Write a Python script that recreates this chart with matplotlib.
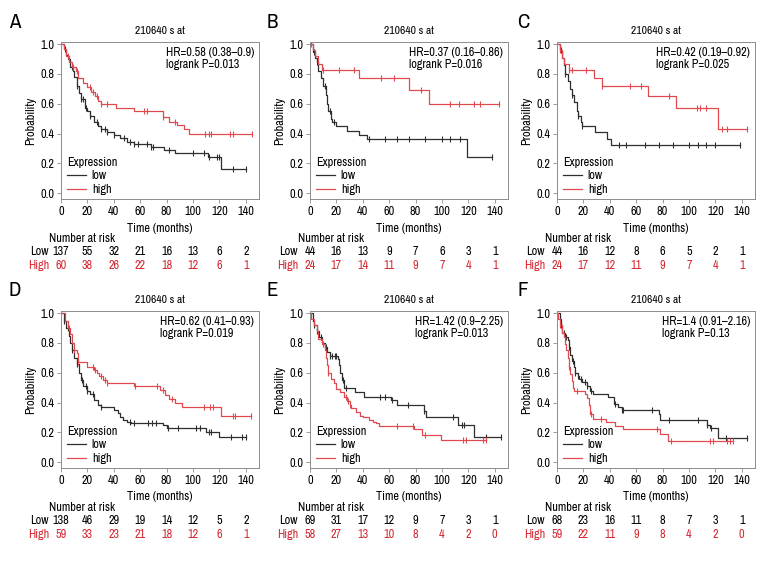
import numpy as np
import matplotlib
matplotlib.use("Agg")
import matplotlib.pyplot as plt
import matplotlib.transforms as mtransforms
from matplotlib import font_manager

# pick a narrow face if one is installed, else fall back to Liberation Sans
_names = sorted({f.name for f in font_manager.fontManager.ttflist})
_narrow = [n for n in _names if ("Condensed" in n or "Narrow" in n) and "Mono" not in n]
_stretchy = sorted({f.name for f in font_manager.fontManager.ttflist
                    if str(f.stretch) in ("condensed", "semi-condensed", "extra-condensed")
                    and "Mono" not in f.name})
FONT = (_narrow + _stretchy + ["Liberation Sans"])[0]
plt.rcParams["font.family"] = [FONT, "DejaVu Sans"]
if FONT in _stretchy and FONT not in _narrow:
    plt.rcParams["font.stretch"] = "condensed"

LOW_COLOR = "#2e2e2e"
HIGH_COLOR = "#e04a4f"
HIGH_TEXT = "#d42a33"
FRAME_COLOR = "#8c8c8c"

PROBE = "210640 s at"
RISK_TIMES = [0, 20, 40, 60, 80, 100, 120, 140]

# ---- Panel A
A_LOW_T = [0, 2, 4, 5, 7, 9, 10, 12, 14, 15, 18, 20, 22, 25, 28, 30, 35, 40, 45, 50, 55, 68, 78, 86, 111, 121]
A_LOW_S = [1.0, 0.97, 0.93, 0.90, 0.85, 0.82, 0.78, 0.72, 0.67, 0.63, 0.57, 0.55, 0.52, 0.48, 0.45, 0.43, 0.41,
           0.39, 0.37, 0.34, 0.33, 0.31, 0.29, 0.27, 0.24, 0.16]
A_LOW_CENS = [3, 6, 8, 12, 15, 17, 19, 22, 27, 30, 33, 35, 40, 48, 52, 55, 58, 65, 68, 70, 82, 100, 108, 112,
              118, 120, 130, 140]
A_HIGH_T = [0, 2, 4, 6, 8, 11, 13, 17, 20, 23, 26, 28, 30, 42, 55, 77, 82, 88, 93, 97]
A_HIGH_S = [1.0, 0.97, 0.92, 0.88, 0.85, 0.82, 0.77, 0.74, 0.71, 0.68, 0.65, 0.62, 0.60, 0.57, 0.55, 0.51,
            0.48, 0.46, 0.43, 0.40]
A_HIGH_CENS = [5, 9, 12, 22, 24, 27, 30, 35, 63, 65, 77, 86, 109, 112, 114, 128, 130, 145]
A_RISK_LOW = [137, 55, 32, 21, 16, 13, 6, 2]
A_RISK_HIGH = [60, 38, 26, 22, 18, 12, 6, 1]
A_STATS = "HR=0.58 (0.38\u20130.9)\nlogrank P=0.013"

# ---- Panel B
B_LOW_T = [0, 2, 4, 5, 6, 8, 10, 12, 13, 14, 16, 17, 20, 28, 37, 43, 119]
B_LOW_S = [1.0, 0.95, 0.91, 0.88, 0.82, 0.77, 0.72, 0.66, 0.60, 0.55, 0.50, 0.48, 0.45, 0.42, 0.39, 0.36, 0.24]
B_LOW_CENS = [3, 5, 11, 15, 18, 45, 57, 66, 75, 87, 100, 106, 114, 138]
B_HIGH_T = [0, 2, 4, 6, 9, 37, 75, 90]
B_HIGH_S = [1.0, 0.96, 0.92, 0.87, 0.83, 0.77, 0.69, 0.60]
B_HIGH_CENS = [1, 10, 22, 33, 54, 64, 84, 106, 113, 124, 129, 143]
B_RISK_LOW = [44, 16, 13, 9, 7, 6, 3, 1]
B_RISK_HIGH = [24, 17, 14, 11, 9, 7, 4, 1]
B_STATS = "HR=0.37 (0.16\u20130.86)\nlogrank P=0.016"

# ---- Panel C
C_LOW_T = [0, 2, 4, 5, 6, 8, 10, 11, 13, 15, 16, 18, 19, 29, 38, 41]
C_LOW_S = [1.0, 0.96, 0.91, 0.86, 0.80, 0.75, 0.70, 0.66, 0.61, 0.55, 0.52, 0.48, 0.45, 0.41, 0.36, 0.32]
C_LOW_CENS = [3, 6, 11, 16, 19, 47, 52, 67, 77, 88, 100, 107, 113, 120, 139]
C_HIGH_T = [0, 2, 4, 5, 9, 28, 34, 69, 90, 122]
C_HIGH_S = [1.0, 0.96, 0.91, 0.87, 0.83, 0.77, 0.72, 0.65, 0.57, 0.43]
C_HIGH_CENS = [2, 9, 11, 22, 34, 55, 64, 85, 106, 108, 113, 125, 129, 144]
C_RISK_LOW = [44, 16, 12, 8, 6, 5, 2, 1]
C_RISK_HIGH = [24, 17, 12, 11, 9, 7, 4, 1]
C_STATS = "HR=0.42 (0.19\u20130.92)\nlogrank P=0.025"

# ---- Panel D
D_LOW_T = [0, 2, 4, 6, 7, 8, 10, 12, 14, 15, 17, 20, 22, 25, 28, 30, 40, 43, 45, 47, 50, 53, 77, 80, 110, 120]
D_LOW_S = [1.0, 0.95, 0.90, 0.85, 0.80, 0.75, 0.70, 0.66, 0.60, 0.55, 0.51, 0.48, 0.46, 0.42, 0.38, 0.37, 0.35,
           0.33, 0.30, 0.28, 0.27, 0.26, 0.25, 0.23, 0.20, 0.17]
D_LOW_CENS = [2, 5, 8, 12, 16, 19, 20, 24, 30, 52, 55, 66, 69, 72, 81, 89, 102, 105, 112, 114, 129, 137, 140]
D_HIGH_T = [0, 3, 5, 7, 8, 10, 12, 13, 20, 25, 27, 29, 32, 35, 55, 75, 79, 82, 86, 92, 121]
D_HIGH_S = [1.0, 0.95, 0.90, 0.86, 0.80, 0.75, 0.73, 0.67, 0.64, 0.62, 0.60, 0.575, 0.55, 0.53, 0.51, 0.485,
            0.45, 0.425, 0.40, 0.37, 0.31]
D_HIGH_CENS = [6, 10, 13, 24, 26, 30, 33, 35, 56, 73, 77, 84, 108, 113, 115, 130, 132, 144]
D_RISK_LOW = [138, 46, 29, 19, 14, 12, 5, 2]
D_RISK_HIGH = [59, 33, 23, 21, 18, 12, 6, 1]
D_STATS = "HR=0.62 (0.41\u20130.93)\nlogrank P=0.019"

# ---- Panel E
E_LOW_T = [0, 2, 3, 5, 7, 9, 11, 13, 15, 21, 22, 23, 24, 26, 34, 41, 61, 66, 86, 88, 112, 124]
E_LOW_S = [1.0, 0.95, 0.92, 0.88, 0.84, 0.80, 0.77, 0.74, 0.71, 0.69, 0.65, 0.60, 0.55, 0.50, 0.47, 0.44,
           0.42, 0.38, 0.345, 0.30, 0.25, 0.17]
E_LOW_CENS = [3, 5, 8, 11, 12, 15, 17, 19, 20, 25, 27, 53, 57, 62, 74, 86, 108, 115, 117, 133, 145]
E_HIGH_T = [0, 1, 3, 5, 6, 9, 11, 12, 13, 14, 16, 18, 20, 23, 26, 28, 30, 31, 35, 38, 40, 45, 48, 50, 52,
            79, 85, 99]
E_HIGH_S = [1.0, 0.96, 0.92, 0.88, 0.83, 0.79, 0.75, 0.70, 0.65, 0.60, 0.56, 0.53, 0.49, 0.47, 0.44, 0.41,
            0.385, 0.36, 0.335, 0.31, 0.30, 0.285, 0.27, 0.26, 0.245, 0.225, 0.18, 0.145]
E_HIGH_CENS = [10, 14, 27, 29, 30, 66, 78, 87, 116, 118, 131, 133]
E_RISK_LOW = [69, 31, 17, 12, 9, 7, 3, 1]
E_RISK_HIGH = [58, 27, 13, 10, 8, 4, 2, 0]
E_STATS = "HR=1.42 (0.9\u20132.25)\nlogrank P=0.013"

# ---- Panel F
F_LOW_T = [0, 2, 3, 4, 6, 8, 9, 10, 11, 13, 14, 16, 17, 19, 23, 25, 27, 39, 43, 46, 49, 77, 78, 114, 116, 122]
F_LOW_S = [1.0, 0.96, 0.92, 0.87, 0.84, 0.82, 0.77, 0.72, 0.68, 0.64, 0.60, 0.58, 0.56, 0.54, 0.51, 0.475,
           0.46, 0.44, 0.39, 0.37, 0.35, 0.325, 0.28, 0.25, 0.23, 0.16]
F_LOW_CENS = [3, 5, 7, 9, 12, 14, 16, 18, 21, 23, 26, 44, 49, 50, 72, 85, 107, 114, 117, 128, 144]
F_HIGH_T = [0, 1, 2, 4, 5, 6, 7, 8, 9, 10, 11, 12, 13, 21, 23, 24, 25, 27, 37, 44, 50, 78, 84]
F_HIGH_S = [1.0, 0.96, 0.92, 0.87, 0.84, 0.79, 0.75, 0.70, 0.64, 0.59, 0.545, 0.50, 0.475, 0.46, 0.43, 0.38,
            0.325, 0.29, 0.27, 0.245, 0.22, 0.19, 0.14]
F_HIGH_CENS = [2, 9, 15, 26, 33, 76, 86, 116, 118, 129, 131, 133]
F_RISK_LOW = [68, 23, 16, 11, 8, 7, 3, 1]
F_RISK_HIGH = [59, 22, 11, 9, 8, 4, 2, 0]
F_STATS = "HR=1.4 (0.91\u20132.16)\nlogrank P=0.13"

PANELS = [
    ("A", A_LOW_T, A_LOW_S, A_LOW_CENS, A_HIGH_T, A_HIGH_S, A_HIGH_CENS, A_RISK_LOW, A_RISK_HIGH, A_STATS),
    ("B", B_LOW_T, B_LOW_S, B_LOW_CENS, B_HIGH_T, B_HIGH_S, B_HIGH_CENS, B_RISK_LOW, B_RISK_HIGH, B_STATS),
    ("C", C_LOW_T, C_LOW_S, C_LOW_CENS, C_HIGH_T, C_HIGH_S, C_HIGH_CENS, C_RISK_LOW, C_RISK_HIGH, C_STATS),
    ("D", D_LOW_T, D_LOW_S, D_LOW_CENS, D_HIGH_T, D_HIGH_S, D_HIGH_CENS, D_RISK_LOW, D_RISK_HIGH, D_STATS),
    ("E", E_LOW_T, E_LOW_S, E_LOW_CENS, E_HIGH_T, E_HIGH_S, E_HIGH_CENS, E_RISK_LOW, E_RISK_HIGH, E_STATS),
    ("F", F_LOW_T, F_LOW_S, F_LOW_CENS, F_HIGH_T, F_HIGH_S, F_HIGH_CENS, F_RISK_LOW, F_RISK_HIGH, F_STATS),
]

W, H = 780, 564
COL_LEFT = [61, 310, 557]
ROW_TOP = [42, 311]
AX_W, AX_H = 198, 157
FS = 8.8


def draw_curve(ax, times, surv, cens, color, label):
    times = np.asarray(times, float)
    surv = np.asarray(surv, float)
    end = max(times[-1], max(cens))
    x = np.append(times, end)
    y = np.append(surv, surv[-1])
    ax.plot(x, y, drawstyle="steps-post", color=color, lw=0.9, label=label)
    idx = np.searchsorted(times, cens, side="right") - 1
    ax.plot(cens, surv[idx], ls="none", marker="|", ms=4, mew=0.8, color=color)


fig = plt.figure(figsize=(W / 100, H / 100), dpi=100)

for i, (letter, lt, ls, lc, ht, hs, hc, rl, rh, stats) in enumerate(PANELS):
    row, col = divmod(i, 3)
    left = COL_LEFT[col] / W
    bottom = 1 - (ROW_TOP[row] + AX_H) / H
    ax = fig.add_axes([left, bottom, AX_W / W, AX_H / H])

    draw_curve(ax, lt, ls, lc, LOW_COLOR, "low")
    draw_curve(ax, ht, hs, hc, HIGH_COLOR, "high")

    ax.set_xlim(0, 150)
    ax.set_ylim(-0.04, 1.015)
    ax.set_xticks(RISK_TIMES)
    ax.set_yticks([0.0, 0.2, 0.4, 0.6, 0.8, 1.0])
    ax.set_yticklabels(["0.0", "0.2", "0.4", "0.6", "0.8", "1.0"])
    ax.tick_params(length=3, width=0.6, color=FRAME_COLOR, pad=2, labelsize=FS)
    for sp in ax.spines.values():
        sp.set_color(FRAME_COLOR)
        sp.set_linewidth(0.7)

    ax.set_title(PROBE, fontsize=FS - 0.5, pad=6)
    ax.set_ylabel("Probability", fontsize=FS, labelpad=3)
    ax.set_xlabel("Time (months)", fontsize=FS, labelpad=4)

    ax.text(0.975, 0.97, stats, transform=ax.transAxes, ha="right", va="top",
            multialignment="left", fontsize=FS, linespacing=1.15)

    leg = ax.legend(title="Expression", loc="lower left", frameon=False, fontsize=FS,
                    title_fontsize=FS, handlelength=1.5, handletextpad=0.5,
                    labelspacing=0.2, borderaxespad=0.2, alignment="left",
                    bbox_to_anchor=(-0.005, -0.02))
    leg._legend_box.sep = 2

    # number at risk table
    trans = mtransforms.blended_transform_factory(ax.transData, ax.transAxes)
    off_left = mtransforms.offset_copy(ax.transAxes, fig=fig, x=-12, y=0, units="dots")
    ax.text(0, -0.25, "Number at risk", transform=off_left, ha="left", va="center", fontsize=FS)
    ax.text(0, -0.335, "Low", transform=off_left, ha="right", va="center", fontsize=FS)
    ax.text(0, -0.425, "High", transform=off_left, ha="right", va="center", fontsize=FS, color=HIGH_TEXT)
    for t, nl, nh in zip(RISK_TIMES, rl, rh):
        ax.text(t, -0.335, str(nl), transform=trans, ha="center", va="center", fontsize=FS)
        ax.text(t, -0.425, str(nh), transform=trans, ha="center", va="center", fontsize=FS, color=HIGH_TEXT)

    # panel letter
    lx = [15, 272, 523][col] / W
    ly = 1 - [23, 291][row] / H
    fig.text(lx, ly, letter, fontsize=15, ha="center", va="center")

fig.savefig("out.png", dpi=100)
